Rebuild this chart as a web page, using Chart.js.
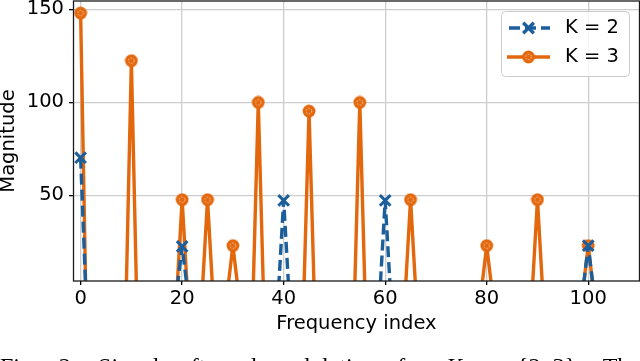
<!DOCTYPE html>
<html lang="en">
<head>
    <meta charset="UTF-8">
    <title>Signal after demodulation</title>
    <style>
        html, body {
            margin: 0;
            padding: 0;
            background: #fff;
        }

        #wrap {
            position: relative;
            width: 640px;
            height: 361px;
            overflow: hidden;
        }

        #chart {
            position: absolute;
            left: 0;
            top: 0;
        }

        #caption {
            position: absolute;
            left: 0;
            top: 354px;
            width: 640px;
            display: flex;
            justify-content: space-between;
            font-family: "Liberation Serif", serif;
            font-size: 24px;
            line-height: 24px;
            color: #000;
        }
    </style>
</head>
<body>
    <div id="wrap">
        <canvas id="chart" width="640" height="361"></canvas>
        <div id="caption">
            <span>Fig.</span><span>2:</span><span>Signal</span><span>after</span><span>demodulation</span><span>for</span><span><i>K</i></span><span>=</span><span>{2,&nbsp;3}.</span><span>The</span>
        </div>
    </div>

    <script src="https://cdn.jsdelivr.net/npm/chart.js"></script>
    <script>
        // data
        const nBins = 110;                       // frequency indices 0..109
        const xTicks = [0, 20, 40, 60, 80, 100];
        const yTicks = [50, 100, 150];

        const k2PeakIndex = [0, 20, 40, 60, 100];
        const k2PeakValue = [70.3, 22.6, 47.3, 47.3, 23.0];

        const k3PeakIndex = [0, 10, 20, 25, 30, 35, 45, 55, 65, 80, 90, 100];
        const k3PeakValue = [148.0, 122.4, 47.7, 47.7, 23.0, 100.0, 95.3, 100.0, 47.7, 23.0, 47.7, 23.0];

        const blue = '#1b5e9c';
        const orange = '#e3670c';

        // spectrum is zero everywhere except the listed bins
        function spectrum(peakIndex, peakValue) {
            const pts = [];
            for (let i = 0; i < nBins; i++) {
                const k = peakIndex.indexOf(i);
                pts.push({ x: i, y: k >= 0 ? peakValue[k] : 0 });
            }
            return pts;
        }

        // orange circle marker with the faint inner ring
        function ringMarker(color) {
            const c = document.createElement('canvas');
            c.width = 14;
            c.height = 14;
            const g = c.getContext('2d');
            g.fillStyle = color;
            g.beginPath();
            g.arc(7, 7, 6.4, 0, Math.PI * 2);
            g.fill();
            g.strokeStyle = 'rgba(255,255,255,0.7)';
            g.lineWidth = 1;
            g.setLineDash([1.5, 1.5]);
            g.beginPath();
            g.arc(7, 7, 2.8, 0, Math.PI * 2);
            g.stroke();
            return c;
        }

        const font = { family: 'DejaVu Sans', size: 19.5 };

        const framePlugin = {
            id: 'frame',
            afterDatasetsDraw(chart) {
                const { ctx, chartArea: a } = chart;
                ctx.save();
                ctx.strokeStyle = '#1a1a1a';
                ctx.lineWidth = 1.3;
                ctx.strokeRect(a.left + 0.5, a.top, a.right - a.left - 1, a.bottom - a.top);
                ctx.restore();
            }
        };

        // matplotlib style legend box in the upper right corner
        const legendPlugin = {
            id: 'mplLegend',
            afterDraw(chart) {
                const { ctx, chartArea: a } = chart;
                const w = 128, h = 65;
                const x0 = a.right - 11 - w, y0 = a.top + 10;
                ctx.save();
                ctx.beginPath();
                ctx.roundRect(x0 + 0.5, y0 + 0.5, w, h, 4);
                ctx.fillStyle = 'rgba(255,255,255,0.8)';
                ctx.fill();
                ctx.strokeStyle = '#cccccc';
                ctx.lineWidth = 1;
                ctx.stroke();

                chart.data.datasets.forEach((ds, i) => {
                    const cy = y0 + 17 + i * 29;
                    const lx0 = x0 + 6, lx1 = x0 + 49;
                    ctx.save();
                    ctx.strokeStyle = ds.borderColor;
                    ctx.lineWidth = ds.borderWidth;
                    ctx.setLineDash(ds.borderDash || []);
                    if (ds.borderDash) ctx.lineDashOffset = -2;
                    ctx.beginPath();
                    ctx.moveTo(lx0, cy);
                    ctx.lineTo(lx1, cy);
                    ctx.stroke();
                    ctx.setLineDash([]);
                    ctx.fillStyle = ds.borderColor;
                    Chart.helpers.drawPoint(ctx, {
                        pointStyle: ds.pointStyle,
                        radius: ds.legendRadius,
                        borderWidth: ds.pointBorderWidth,
                        rotation: 0
                    }, (lx0 + lx1) / 2, cy);
                    ctx.restore();

                    ctx.fillStyle = '#000';
                    ctx.font = font.size + 'px "' + font.family + '"';
                    ctx.textBaseline = 'middle';
                    ctx.textAlign = 'left';
                    ctx.fillText(ds.label, x0 + 64, cy);
                });
                ctx.restore();
            }
        };

        const ctx = document.getElementById('chart').getContext('2d');
        new Chart(ctx, {
            type: 'line',
            data: {
                datasets: [{
                    label: 'K = 2',
                    data: spectrum(k2PeakIndex, k2PeakValue),
                    borderColor: blue,
                    backgroundColor: blue,
                    borderWidth: 3.4,
                    borderDash: [11, 5],
                    borderCapStyle: 'butt',
                    borderJoinStyle: 'round',
                    pointStyle: 'crossRot',
                    pointBorderColor: blue,
                    pointBorderWidth: 3,
                    pointRadius: c => (c.raw && c.raw.y > 0 ? 7.5 : 0),
                    legendRadius: 7.5,
                    tension: 0,
                    fill: false
                }, {
                    label: 'K = 3',
                    data: spectrum(k3PeakIndex, k3PeakValue),
                    borderColor: orange,
                    backgroundColor: orange,
                    borderWidth: 3.4,
                    borderCapStyle: 'square',
                    borderJoinStyle: 'round',
                    pointStyle: ringMarker(orange),
                    pointBorderWidth: 0,
                    pointRadius: c => (c.raw && c.raw.y > 0 ? 6 : 0),
                    legendRadius: 6,
                    tension: 0,
                    fill: false
                }]
            },
            options: {
                responsive: false,
                animation: false,
                events: [],
                layout: { autoPadding: false, padding: { top: 1, right: 0, bottom: 0, left: 0 } },
                plugins: {
                    legend: { display: false },
                    tooltip: { enabled: false }
                },
                scales: {
                    x: {
                        type: 'linear',
                        min: -1.5,
                        max: 110.2,
                        afterBuildTicks: s => { s.ticks = xTicks.map(v => ({ value: v })); },
                        afterFit: s => { s.height = 80; s.paddingLeft = 0; s.paddingRight = 0; },
                        border: { display: false },
                        grid: { color: '#cdcdcd', lineWidth: 1.3, tickLength: 4, tickColor: '#000', tickWidth: 1.3 },
                        ticks: { font: font, color: '#000', padding: 2, maxRotation: 0, autoSkip: false },
                        title: { display: true, text: 'Frequency index', font: font, color: '#000', padding: { top: 0, bottom: 25 } }
                    },
                    y: {
                        min: 4,
                        max: 154.5,
                        afterBuildTicks: s => { s.ticks = yTicks.map(v => ({ value: v })); },
                        afterFit: s => { s.width = 73; s.paddingTop = 0; s.paddingBottom = 0; },
                        border: { display: false },
                        grid: { color: '#cdcdcd', lineWidth: 1.3, tickLength: 4, tickColor: '#000', tickWidth: 1.3 },
                        ticks: { font: font, color: '#000', padding: 5 },
                        title: { display: true, text: 'Magnitude', font: font, color: '#000', padding: { top: -3, bottom: 0 } }
                    }
                }
            },
            plugins: [framePlugin, legendPlugin]
        });
    </script>
</body>
</html>
